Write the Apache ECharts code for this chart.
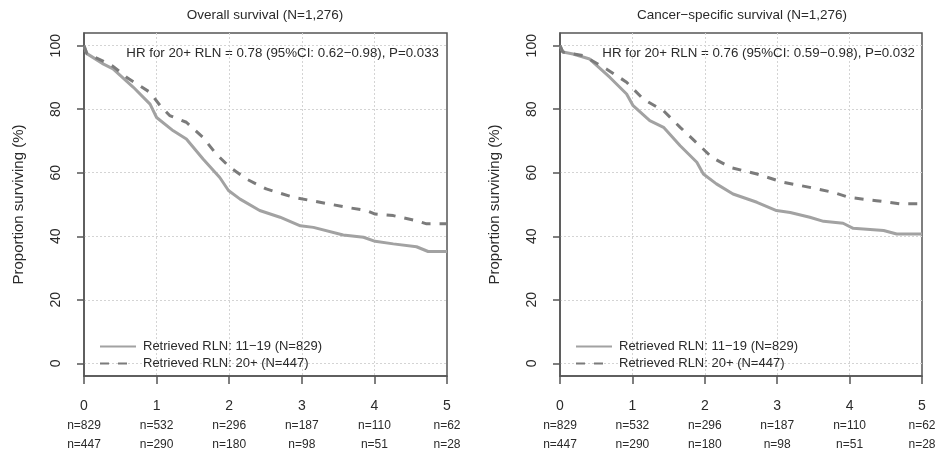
<!DOCTYPE html>
<html>
<head>
<meta charset="utf-8">
<script src="https://cdn.jsdelivr.net/npm/echarts@6/dist/echarts.min.js"></script>
<style>
  html, body { margin: 0; padding: 0; background: #fff; }
  #chart { width: 939px; height: 453px; }
</style>
</head>
<body>
<div id="chart"></div>
<script>
// Kaplan-Meier estimates (years, % surviving)
const osTimeLow  = [0, 0.04, 0.27, 0.40, 0.68, 0.91, 1.00, 1.23, 1.41, 1.64, 1.87, 1.99, 2.15, 2.42, 2.70, 2.98, 3.16, 3.57, 3.85, 4.01, 4.26, 4.58, 4.74, 5];
const osSurvLow  = [100, 97.5, 94.2, 92.7, 86.9, 81.6, 77.4, 73.2, 70.6, 64.3, 58.5, 54.4, 51.7, 48.1, 46.0, 43.3, 42.8, 40.4, 39.7, 38.4, 37.6, 36.7, 35.2, 35.2];
const osTimeHigh = [0, 0.04, 0.27, 0.40, 0.59, 0.91, 1.05, 1.18, 1.41, 1.64, 1.82, 2.01, 2.24, 2.51, 2.88, 3.25, 3.62, 3.89, 4.01, 4.26, 4.58, 4.72, 5];
const osSurvHigh = [100, 97.5, 95.1, 93.5, 90.0, 85.3, 81.1, 78.0, 75.9, 71.1, 65.9, 61.7, 58.0, 54.9, 52.3, 50.7, 49.1, 48.1, 47.0, 46.5, 44.9, 43.9, 43.9];

const cssTimeLow  = [0, 0.04, 0.18, 0.41, 0.69, 0.92, 1.01, 1.24, 1.43, 1.66, 1.89, 1.98, 2.16, 2.39, 2.72, 2.99, 3.18, 3.45, 3.64, 3.91, 4.05, 4.47, 4.65, 5];
const cssSurvLow  = [100, 98.0, 97.4, 95.8, 90.0, 84.8, 81.1, 76.4, 74.3, 68.5, 63.3, 59.6, 56.5, 53.3, 50.7, 48.1, 47.5, 46.0, 44.7, 44.1, 42.5, 41.8, 40.7, 40.7];
const cssTimeHigh = [0, 0.04, 0.32, 0.64, 0.92, 1.15, 1.43, 1.66, 1.93, 2.10, 2.35, 2.72, 3.08, 3.45, 3.78, 4.00, 4.37, 4.70, 5];
const cssSurvHigh = [100, 98.0, 96.9, 92.7, 88.5, 83.2, 79.5, 74.3, 68.5, 64.8, 61.7, 59.6, 57.0, 55.4, 53.8, 52.2, 51.2, 50.2, 50.2];

// Numbers at risk at each year
const yearTicks  = [0, 1, 2, 3, 4, 5];
const atRiskLow  = [829, 532, 296, 187, 110, 62];
const atRiskHigh = [447, 290, 180, 98, 51, 28];
const yTicks     = [0, 20, 40, 60, 80, 100];

const panelTitles = ['Overall survival (N=1,276)', 'Cancer\u2212specific survival (N=1,276)'];
const hrTexts = [
  'HR for 20+ RLN = 0.78 (95%CI: 0.62\u22120.98), P=0.033',
  'HR for 20+ RLN = 0.76 (95%CI: 0.59\u22120.98), P=0.032'
];
const groupNames = ['Retrieved RLN: 11\u221219 (N=829)', 'Retrieved RLN: 20+ (N=447)'];

const FONT = '"Liberation Sans", Arial, Helvetica, sans-serif';
const INK = '#2a2a2a';
const FRAME = '#555';
const SOLID_GREY = '#a2a2a2';
const DASH_GREY = '#7b7b7b';
const GRID_LINE = { type: [2, 2], color: '#d4d4d4', width: 1 };

const pairs = (t, v) => t.map((x, i) => [x, v[i]]);

const grids = [
  { left: 84, top: 33, width: 363, height: 343 },
  { left: 560, top: 33, width: 362, height: 343 }
];

function xAxisFor(i) {
  return {
    type: 'value', gridIndex: i, min: 0, max: 5, interval: 1,
    axisLine: { show: true, onZero: false, lineStyle: { color: FRAME, width: 1.5 } },
    axisTick: { show: true, length: 8, lineStyle: { color: FRAME, width: 1.5 } },
    axisLabel: {
      margin: 20, showMinLabel: true, showMaxLabel: true,
      formatter: function (v) {
        const k = yearTicks.indexOf(Math.round(v));
        return '{t|' + v + '}\n{n|n=' + atRiskLow[k] + '}\n{n|n=' + atRiskHigh[k] + '}';
      },
      rich: {
        t: { fontFamily: FONT, fontSize: 14, color: INK, lineHeight: 20 },
        n: { fontFamily: FONT, fontSize: 12, color: INK, lineHeight: 19 }
      }
    },
    splitLine: { show: true, showMinLine: false, showMaxLine: false, lineStyle: GRID_LINE }
  };
}

function yAxisFor(i) {
  return {
    type: 'value', gridIndex: i, min: -4, max: 104,
    name: 'Proportion surviving (%)', nameLocation: 'middle', nameGap: 58,
    nameTextStyle: { fontFamily: FONT, fontSize: 15, color: INK },
    axisLine: { show: true, lineStyle: { color: FRAME, width: 1.5 } },
    axisTick: { show: true, length: 7, customValues: yTicks, lineStyle: { color: FRAME, width: 1.5 } },
    axisLabel: { customValues: yTicks, rotate: 90, margin: 21, fontFamily: FONT, fontSize: 14, color: INK },
    splitLine: { show: true, lineStyle: GRID_LINE }
  };
}

function curve(name, i, t, v, dashed) {
  const color = dashed ? DASH_GREY : SOLID_GREY;
  return {
    type: 'line', name: name, xAxisIndex: i, yAxisIndex: i,
    data: pairs(t, v), symbol: 'none', silent: true, animation: false,
    lineStyle: dashed
      ? { color: color, width: 3, type: [9, 9], cap: 'butt' }
      : { color: color, width: 3, type: 'solid' },
    itemStyle: { color: color }
  };
}

const chart = echarts.init(document.getElementById('chart'), null, { renderer: 'canvas' });

const option = {
  backgroundColor: '#fff',
  animation: false,
  grid: grids.map(g => Object.assign({ show: true, borderColor: FRAME, borderWidth: 1.5, backgroundColor: 'transparent' }, g)),
  xAxis: [xAxisFor(0), xAxisFor(1)],
  yAxis: [yAxisFor(0), yAxisFor(1)],
  legend: [0, 1].map(i => ({
    data: groupNames, orient: 'vertical',
    left: i === 0 ? 94 : 570, top: 335,
    itemWidth: 36, itemHeight: 14, itemGap: 4,
    selectedMode: false,
    itemStyle: { opacity: 0 },
    textStyle: { fontFamily: FONT, fontSize: 13, color: INK, padding: [0, 0, 0, 2] }
  })),
  series: [
    curve(groupNames[0], 0, osTimeLow, osSurvLow, false),
    curve(groupNames[1], 0, osTimeHigh, osSurvHigh, true),
    curve(groupNames[0], 1, cssTimeLow, cssSurvLow, false),
    curve(groupNames[1], 1, cssTimeHigh, cssSurvHigh, true)
  ],
  graphic: [
    { type: 'text', x: 265, y: 15, style: { text: panelTitles[0], font: '13.5px ' + FONT, fill: INK, textAlign: 'center', textVerticalAlign: 'middle' } },
    { type: 'text', x: 742, y: 15, style: { text: panelTitles[1], font: '13.5px ' + FONT, fill: INK, textAlign: 'center', textVerticalAlign: 'middle' } },
    { type: 'text', x: 439, y: 53, style: { text: hrTexts[0], font: '13.3px ' + FONT, fill: INK, textAlign: 'right', textVerticalAlign: 'middle' } },
    { type: 'text', x: 915, y: 53, style: { text: hrTexts[1], font: '13.3px ' + FONT, fill: INK, textAlign: 'right', textVerticalAlign: 'middle' } }
  ]
};

chart.setOption(option);
</script>
</body>
</html>
